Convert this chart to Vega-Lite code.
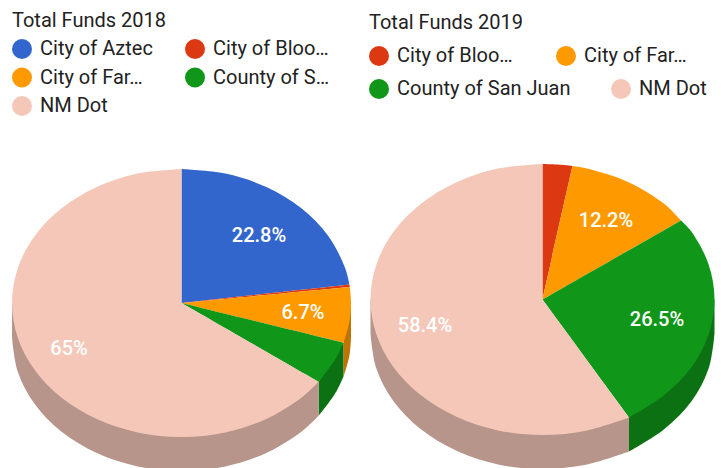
{
"$schema":"https://vega.github.io/schema/vega-lite/v6.json",
"padding":0,
"spacing":0,
"bounds":"flush",
"config":{"view":{"stroke":null},"font":"Roboto","concat":{"spacing":0}},
"datasets":{
"rim18":[
{"i":1,"s":"City of Far…","x":351,"y":303},{"i":2,"s":"City of Far…","x":351,"y":303},{"i":3,"s":"City of Far…","x":351,"y":337},{"i":4,"s":"City of Far…","x":351,"y":337},{"i":5,"s":"City of Far…","x":349.4,"y":355.7},{"i":6,"s":"City of Far…","x":343.4,"y":376.8},{"i":7,"s":"City of Far…","x":343.4,"y":376.8},{"i":8,"s":"City of Far…","x":343.4,"y":342.8},{"i":9,"s":"City of Far…","x":343.4,"y":342.8},
{"i":10,"s":"County of S…","x":343.4,"y":342.8},{"i":11,"s":"County of S…","x":343.4,"y":342.8},{"i":12,"s":"County of S…","x":343.4,"y":376.8},{"i":13,"s":"County of S…","x":343.4,"y":376.8},{"i":14,"s":"County of S…","x":335.1,"y":393.6},{"i":15,"s":"County of S…","x":318.6,"y":415.8},{"i":16,"s":"County of S…","x":318.6,"y":415.8},{"i":17,"s":"County of S…","x":318.6,"y":381.8},{"i":18,"s":"County of S…","x":318.6,"y":381.8},
{"i":19,"s":"NM Dot","x":12,"y":303},{"i":20,"s":"NM Dot","x":12,"y":303},{"i":21,"s":"NM Dot","x":12,"y":337},{"i":22,"s":"NM Dot","x":12,"y":337},{"i":23,"s":"NM Dot","x":17.8,"y":371.7},{"i":24,"s":"NM Dot","x":34.7,"y":404},{"i":25,"s":"NM Dot","x":61.6,"y":431.8},{"i":26,"s":"NM Dot","x":96.8,"y":453},{"i":27,"s":"NM Dot","x":137.6,"y":466.4},{"i":28,"s":"NM Dot","x":181.5,"y":471},{"i":29,"s":"NM Dot","x":225.4,"y":466.4},{"i":30,"s":"NM Dot","x":266.3,"y":453},{"i":31,"s":"NM Dot","x":301.4,"y":431.8},{"i":32,"s":"NM Dot","x":318.6,"y":415.8},{"i":33,"s":"NM Dot","x":318.6,"y":415.8},{"i":34,"s":"NM Dot","x":318.6,"y":381.8},{"i":35,"s":"NM Dot","x":318.6,"y":381.8}
],
"top18":[
{"i":1,"s":"City of Aztec","x":181.5,"y":303},{"i":2,"s":"City of Aztec","x":181.5,"y":303},{"i":3,"s":"City of Aztec","x":181.5,"y":169},{"i":4,"s":"City of Aztec","x":181.5,"y":169},{"i":5,"s":"City of Aztec","x":225.4,"y":173.6},{"i":6,"s":"City of Aztec","x":266.3,"y":187},{"i":7,"s":"City of Aztec","x":301.4,"y":208.2},{"i":8,"s":"City of Aztec","x":328.3,"y":236},{"i":9,"s":"City of Aztec","x":345.2,"y":268.3},{"i":10,"s":"City of Aztec","x":349.4,"y":284.5},{"i":11,"s":"City of Aztec","x":349.4,"y":284.5},{"i":12,"s":"City of Aztec","x":181.5,"y":303},{"i":13,"s":"City of Aztec","x":181.5,"y":303},
{"i":14,"s":"City of Bloo…","x":181.5,"y":303},{"i":15,"s":"City of Bloo…","x":181.5,"y":303},{"i":16,"s":"City of Bloo…","x":349.4,"y":284.5},{"i":17,"s":"City of Bloo…","x":349.4,"y":284.5},{"i":18,"s":"City of Bloo…","x":349.8,"y":287},{"i":19,"s":"City of Bloo…","x":349.8,"y":287},{"i":20,"s":"City of Bloo…","x":181.5,"y":303},{"i":21,"s":"City of Bloo…","x":181.5,"y":303},
{"i":22,"s":"City of Far…","x":181.5,"y":303},{"i":23,"s":"City of Far…","x":181.5,"y":303},{"i":24,"s":"City of Far…","x":349.8,"y":287},{"i":25,"s":"City of Far…","x":349.8,"y":287},{"i":26,"s":"City of Far…","x":351,"y":303},{"i":27,"s":"City of Far…","x":349.4,"y":321.7},{"i":28,"s":"City of Far…","x":343.4,"y":342.8},{"i":29,"s":"City of Far…","x":343.4,"y":342.8},{"i":30,"s":"City of Far…","x":181.5,"y":303},{"i":31,"s":"City of Far…","x":181.5,"y":303},
{"i":32,"s":"County of S…","x":181.5,"y":303},{"i":33,"s":"County of S…","x":181.5,"y":303},{"i":34,"s":"County of S…","x":343.4,"y":342.8},{"i":35,"s":"County of S…","x":343.4,"y":342.8},{"i":36,"s":"County of S…","x":335.1,"y":359.6},{"i":37,"s":"County of S…","x":318.6,"y":381.8},{"i":38,"s":"County of S…","x":318.6,"y":381.8},{"i":39,"s":"County of S…","x":181.5,"y":303},{"i":40,"s":"County of S…","x":181.5,"y":303},
{"i":41,"s":"NM Dot","x":181.5,"y":303},{"i":42,"s":"NM Dot","x":181.5,"y":303},{"i":43,"s":"NM Dot","x":318.6,"y":381.8},{"i":44,"s":"NM Dot","x":318.6,"y":381.8},{"i":45,"s":"NM Dot","x":301.4,"y":397.8},{"i":46,"s":"NM Dot","x":266.3,"y":419},{"i":47,"s":"NM Dot","x":225.4,"y":432.4},{"i":48,"s":"NM Dot","x":181.5,"y":437},{"i":49,"s":"NM Dot","x":137.6,"y":432.4},{"i":50,"s":"NM Dot","x":96.8,"y":419},{"i":51,"s":"NM Dot","x":61.6,"y":397.8},{"i":52,"s":"NM Dot","x":34.7,"y":370},{"i":53,"s":"NM Dot","x":17.8,"y":337.7},{"i":54,"s":"NM Dot","x":12,"y":303},{"i":55,"s":"NM Dot","x":17.8,"y":268.3},{"i":56,"s":"NM Dot","x":34.7,"y":236},{"i":57,"s":"NM Dot","x":61.6,"y":208.2},{"i":58,"s":"NM Dot","x":96.8,"y":187},{"i":59,"s":"NM Dot","x":137.6,"y":173.6},{"i":60,"s":"NM Dot","x":181.5,"y":169},{"i":61,"s":"NM Dot","x":181.5,"y":169},{"i":62,"s":"NM Dot","x":181.5,"y":303},{"i":63,"s":"NM Dot","x":181.5,"y":303}
],
"rim19":[
{"i":1,"s":"County of San Juan","x":714.5,"y":299.5},{"i":2,"s":"County of San Juan","x":714.5,"y":299.5},{"i":3,"s":"County of San Juan","x":714.5,"y":333.5},{"i":4,"s":"County of San Juan","x":714.5,"y":333.5},{"i":5,"s":"County of San Juan","x":708.6,"y":368.6},{"i":6,"s":"County of San Juan","x":691.5,"y":401.3},{"i":7,"s":"County of San Juan","x":664.1,"y":429.3},{"i":8,"s":"County of San Juan","x":629,"y":451.5},{"i":9,"s":"County of San Juan","x":629,"y":451.5},{"i":10,"s":"County of San Juan","x":629,"y":417.5},{"i":11,"s":"County of San Juan","x":629,"y":417.5},
{"i":12,"s":"NM Dot","x":629,"y":417.5},{"i":13,"s":"NM Dot","x":629,"y":417.5},{"i":14,"s":"NM Dot","x":629,"y":451.5},{"i":15,"s":"NM Dot","x":629,"y":451.5},{"i":16,"s":"NM Dot","x":587,"y":464.4},{"i":17,"s":"NM Dot","x":542.5,"y":469},{"i":18,"s":"NM Dot","x":498,"y":464.4},{"i":19,"s":"NM Dot","x":456.5,"y":450.8},{"i":20,"s":"NM Dot","x":420.9,"y":429.3},{"i":21,"s":"NM Dot","x":393.5,"y":401.3},{"i":22,"s":"NM Dot","x":376.4,"y":368.6},{"i":23,"s":"NM Dot","x":370.5,"y":333.5},{"i":24,"s":"NM Dot","x":370.5,"y":333.5},{"i":25,"s":"NM Dot","x":370.5,"y":299.5},{"i":26,"s":"NM Dot","x":370.5,"y":299.5}
],
"top19a":[
{"i":1,"s":"City of Bloo…","x":542.5,"y":299.5},{"i":2,"s":"City of Bloo…","x":542.5,"y":299.5},{"i":3,"s":"City of Bloo…","x":542.5,"y":164},{"i":4,"s":"City of Bloo…","x":542.5,"y":164},{"i":5,"s":"City of Bloo…","x":557.5,"y":164.6},{"i":6,"s":"City of Bloo…","x":572.5,"y":166},{"i":7,"s":"City of Bloo…","x":572.5,"y":166},{"i":8,"s":"City of Bloo…","x":542.5,"y":299.5},{"i":9,"s":"City of Bloo…","x":542.5,"y":299.5},
{"i":10,"s":"City of Far…","x":542.5,"y":299.5},{"i":11,"s":"City of Far…","x":542.5,"y":299.5},{"i":12,"s":"City of Far…","x":572.5,"y":166},{"i":13,"s":"City of Far…","x":572.5,"y":166},{"i":14,"s":"City of Far…","x":587,"y":168.6},{"i":15,"s":"City of Far…","x":628.5,"y":182.2},{"i":16,"s":"City of Far…","x":664.1,"y":203.7},{"i":17,"s":"City of Far…","x":681,"y":220.5},{"i":18,"s":"City of Far…","x":681,"y":220.5},{"i":19,"s":"City of Far…","x":542.5,"y":299.5},{"i":20,"s":"City of Far…","x":542.5,"y":299.5}
],
"top19b":[
{"i":1,"s":"County of San Juan","x":542.5,"y":299.5},{"i":2,"s":"County of San Juan","x":542.5,"y":299.5},{"i":3,"s":"County of San Juan","x":681,"y":220.5},{"i":4,"s":"County of San Juan","x":681,"y":220.5},{"i":5,"s":"County of San Juan","x":691.5,"y":231.8},{"i":6,"s":"County of San Juan","x":708.6,"y":264.4},{"i":7,"s":"County of San Juan","x":714.5,"y":299.5},{"i":8,"s":"County of San Juan","x":708.6,"y":334.6},{"i":9,"s":"County of San Juan","x":691.5,"y":367.3},{"i":10,"s":"County of San Juan","x":664.1,"y":395.3},{"i":11,"s":"County of San Juan","x":629,"y":417.5},{"i":12,"s":"County of San Juan","x":629,"y":417.5},{"i":13,"s":"County of San Juan","x":542.5,"y":299.5},{"i":14,"s":"County of San Juan","x":542.5,"y":299.5},
{"i":15,"s":"NM Dot","x":542.5,"y":299.5},{"i":16,"s":"NM Dot","x":542.5,"y":299.5},{"i":17,"s":"NM Dot","x":629,"y":417.5},{"i":18,"s":"NM Dot","x":629,"y":417.5},{"i":19,"s":"NM Dot","x":587,"y":430.4},{"i":20,"s":"NM Dot","x":542.5,"y":435},{"i":21,"s":"NM Dot","x":498,"y":430.4},{"i":22,"s":"NM Dot","x":456.5,"y":416.8},{"i":23,"s":"NM Dot","x":420.9,"y":395.3},{"i":24,"s":"NM Dot","x":393.5,"y":367.3},{"i":25,"s":"NM Dot","x":376.4,"y":334.6},{"i":26,"s":"NM Dot","x":370.5,"y":299.5},{"i":27,"s":"NM Dot","x":376.4,"y":264.4},{"i":28,"s":"NM Dot","x":393.5,"y":231.8},{"i":29,"s":"NM Dot","x":420.9,"y":203.7},{"i":30,"s":"NM Dot","x":456.5,"y":182.2},{"i":31,"s":"NM Dot","x":498,"y":168.6},{"i":32,"s":"NM Dot","x":542.5,"y":164},{"i":33,"s":"NM Dot","x":542.5,"y":164},{"i":34,"s":"NM Dot","x":542.5,"y":299.5},{"i":35,"s":"NM Dot","x":542.5,"y":299.5}
],
"lab18":[{"t":"22.8%","x":259,"y":236},{"t":"6.7%","x":303,"y":313},{"t":"65%","x":69,"y":349}],
"lab19":[{"t":"12.2%","x":606,"y":221},{"t":"26.5%","x":657,"y":320},{"t":"58.4%","x":425,"y":326}]
},
"hconcat":[
{"width":360,"height":468,
"encoding":{
"x":{"field":"x","type":"quantitative","axis":null,"scale":{"domain":[0,360],"nice":false,"zero":false}},
"y":{"field":"y","type":"quantitative","axis":null,"scale":{"domain":[468,0],"nice":false,"zero":false}}},
"layer":[
{"data":{"name":"rim18"},"mark":{"type":"line","filled":true,"strokeWidth":0,"clip":true,"interpolate":"catmull-rom"},
"encoding":{"order":{"field":"i","type":"quantitative"},"fill":{"field":"s","type":"nominal","legend":null,"scale":{"domain":["City of Far…","County of S…","NM Dot"],"range":["#bf7300","#0c7112","#b7958a"]}}}},
{"data":{"name":"top18"},"mark":{"type":"line","filled":true,"strokeWidth":0,"clip":true,"interpolate":"catmull-rom"},
"encoding":{"order":{"field":"i","type":"quantitative"},"fill":{"field":"s","type":"nominal",
"scale":{"domain":["City of Aztec","City of Far…","NM Dot","City of Bloo…","County of S…"],"range":["#3366cc","#ff9900","#f4c7b8","#dc3912","#109618"]},
"legend":{"title":"Total Funds 2018","orient":"none","legendX":12,"legendY":11,"columns":2,"columnPadding":32,"rowPadding":8.5,"padding":0,"symbolType":"circle","symbolSize":400,"symbolStrokeWidth":0,"labelOffset":8,"labelFont":"Roboto","labelFontSize":20,"labelColor":"#222222","labelLimit":250,"titleFont":"Roboto","titleFontSize":20,"titleFontWeight":"normal","titleColor":"#222222","titlePadding":8,"titleLimit":300}}}},
{"data":{"name":"lab18"},"mark":{"type":"text","font":"Roboto","fontSize":20,"fontWeight":500,"color":"#ffffff"},"encoding":{"text":{"field":"t","type":"nominal"}}}
],
"resolve":{"scale":{"fill":"independent"},"legend":{"fill":"independent"}}
},
{"width":361,"height":468,
"encoding":{
"x":{"field":"x","type":"quantitative","axis":null,"scale":{"domain":[360,721],"nice":false,"zero":false}},
"y":{"field":"y","type":"quantitative","axis":null,"scale":{"domain":[468,0],"nice":false,"zero":false}}},
"layer":[
{"data":{"name":"rim19"},"mark":{"type":"line","filled":true,"strokeWidth":0,"clip":true,"interpolate":"catmull-rom"},
"encoding":{"order":{"field":"i","type":"quantitative"},"fill":{"field":"s","type":"nominal","legend":null,"scale":{"domain":["County of San Juan","NM Dot"],"range":["#0c7112","#b7958a"]}}}},
{"data":{"name":"top19a"},"mark":{"type":"line","filled":true,"strokeWidth":0,"clip":true,"interpolate":"catmull-rom"},
"encoding":{"order":{"field":"i","type":"quantitative"},"fill":{"field":"s","type":"nominal",
"scale":{"domain":["City of Bloo…","City of Far…"],"range":["#dc3912","#ff9900"]},
"legend":{"title":"Total Funds 2019","orient":"none","legendX":9,"legendY":13,"columns":2,"columnPadding":43,"padding":0,"symbolType":"circle","symbolSize":400,"symbolStrokeWidth":0,"labelOffset":8,"labelFont":"Roboto","labelFontSize":20,"labelColor":"#222222","labelLimit":250,"titleFont":"Roboto","titleFontSize":20,"titleFontWeight":"normal","titleColor":"#222222","titlePadding":13,"titleLimit":300}}}},
{"data":{"name":"top19b"},"mark":{"type":"line","filled":true,"strokeWidth":0,"clip":true,"interpolate":"catmull-rom"},
"encoding":{"order":{"field":"i","type":"quantitative"},"fill":{"field":"s","type":"nominal",
"scale":{"domain":["County of San Juan","NM Dot"],"range":["#109618","#f4c7b8"]},
"legend":{"title":null,"orient":"none","legendX":9,"legendY":79,"columns":2,"columnPadding":40,"padding":0,"symbolType":"circle","symbolSize":400,"symbolStrokeWidth":0,"labelOffset":8,"labelFont":"Roboto","labelFontSize":20,"labelColor":"#222222","labelLimit":250}}}},
{"data":{"name":"lab19"},"mark":{"type":"text","font":"Roboto","fontSize":20,"fontWeight":500,"color":"#ffffff"},"encoding":{"text":{"field":"t","type":"nominal"}}}
],
"resolve":{"scale":{"fill":"independent"},"legend":{"fill":"independent"}}
}
]
}
